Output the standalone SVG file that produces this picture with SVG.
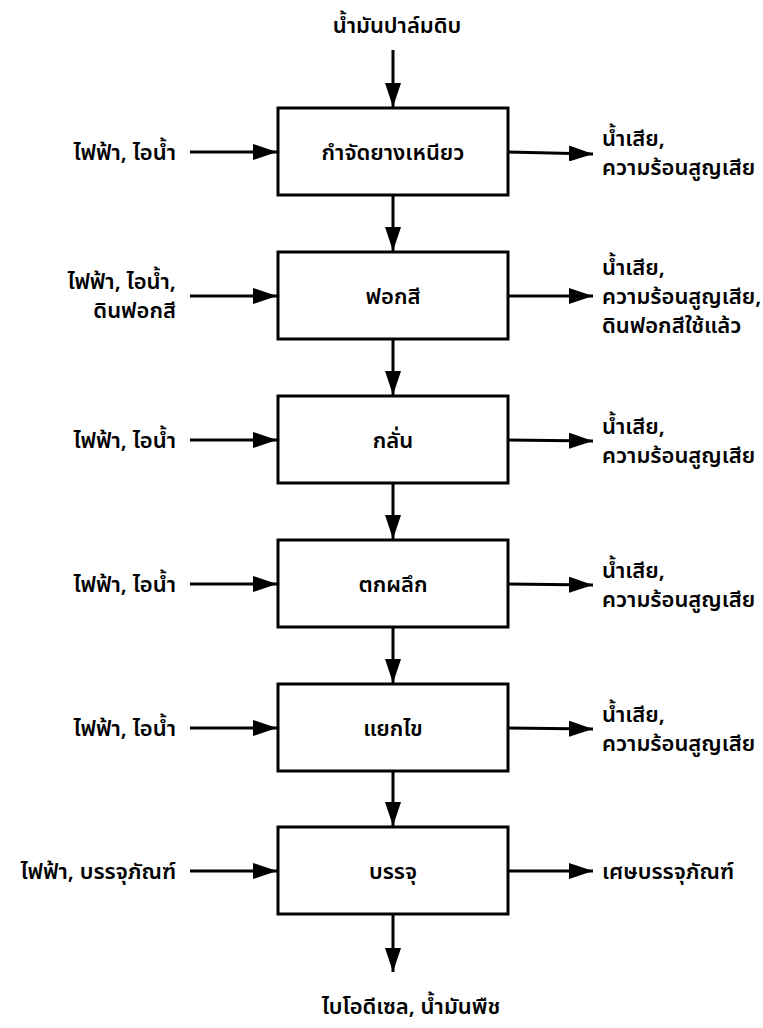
<svg xmlns="http://www.w3.org/2000/svg" width="763" height="1028" viewBox="0 0 763 1028">
  <style>
    .box { fill: #ffffff; stroke: #000000; stroke-width: 3; }
    .lbl { font-family: "Noto Sans Thai", "Loma", "Garuda", "Noto Sans", "DejaVu Sans", sans-serif; font-size: 22px; font-weight: 600; fill: #000000; }
    .mid { text-anchor: middle; }
    .end { text-anchor: end; }
    .flow { stroke: #000000; stroke-width: 3; fill: none; marker-end: url(#head); }
  </style>
  <defs>
    <marker id="head" viewBox="0 0 24 16" refX="24" refY="8" markerWidth="24" markerHeight="16" markerUnits="userSpaceOnUse" orient="auto">
      <path d="M0,0 L24,8 L0,16 Z" fill="#000000"/>
    </marker>
  </defs>

  <!-- process steps -->
  <g id="step-degum">
    <rect class="box" x="278" y="108" width="230" height="87"/>
    <text class="lbl mid" x="393" y="160">กำจัดยางเหนียว</text>
  </g>
  <g id="step-bleach">
    <rect class="box" x="278" y="252" width="230" height="87"/>
    <text class="lbl mid" x="393" y="304">ฟอกสี</text>
  </g>
  <g id="step-distil">
    <rect class="box" x="278" y="396" width="230" height="87"/>
    <text class="lbl mid" x="393" y="448">กลั่น</text>
  </g>
  <g id="step-crystal">
    <rect class="box" x="278" y="540" width="230" height="87"/>
    <text class="lbl mid" x="393" y="592">ตกผลึก</text>
  </g>
  <g id="step-fraction">
    <rect class="box" x="278" y="684" width="230" height="87"/>
    <text class="lbl mid" x="393" y="736">แยกไข</text>
  </g>
  <g id="step-pack">
    <rect class="box" x="278" y="827" width="230" height="87"/>
    <text class="lbl mid" x="393" y="879">บรรจุ</text>
  </g>

  <!-- inputs (left) -->
  <g id="in-degum">
    <text class="lbl end" x="176" y="160">ไฟฟ้า, ไอน้ำ</text>
  </g>
  <g id="in-bleach">
    <text class="lbl end" x="176" y="289">ไฟฟ้า, ไอน้ำ,</text>
    <text class="lbl end" x="176" y="318">ดินฟอกสี</text>
  </g>
  <g id="in-distil">
    <text class="lbl end" x="176" y="448">ไฟฟ้า, ไอน้ำ</text>
  </g>
  <g id="in-crystal">
    <text class="lbl end" x="176" y="592">ไฟฟ้า, ไอน้ำ</text>
  </g>
  <g id="in-fraction">
    <text class="lbl end" x="176" y="736">ไฟฟ้า, ไอน้ำ</text>
  </g>
  <g id="in-pack">
    <text class="lbl end" x="176" y="879">ไฟฟ้า, บรรจุภัณฑ์</text>
  </g>

  <!-- outputs (right) -->
  <g id="out-degum">
    <text class="lbl" x="602" y="146">น้ำเสีย,</text>
    <text class="lbl" x="602" y="175">ความร้อนสูญเสีย</text>
  </g>
  <g id="out-bleach">
    <text class="lbl" x="602" y="275">น้ำเสีย,</text>
    <text class="lbl" x="602" y="304">ความร้อนสูญเสีย,</text>
    <text class="lbl" x="602" y="333">ดินฟอกสีใช้แล้ว</text>
  </g>
  <g id="out-distil">
    <text class="lbl" x="602" y="434">น้ำเสีย,</text>
    <text class="lbl" x="602" y="463">ความร้อนสูญเสีย</text>
  </g>
  <g id="out-crystal">
    <text class="lbl" x="602" y="578">น้ำเสีย,</text>
    <text class="lbl" x="602" y="607">ความร้อนสูญเสีย</text>
  </g>
  <g id="out-fraction">
    <text class="lbl" x="602" y="722">น้ำเสีย,</text>
    <text class="lbl" x="602" y="751">ความร้อนสูญเสีย</text>
  </g>
  <g id="out-pack">
    <text class="lbl" x="602" y="879">เศษบรรจุภัณฑ์</text>
  </g>

  <!-- feed and product -->
  <g id="feed">
    <text class="lbl mid" x="397" y="33">น้ำมันปาล์มดิบ</text>
  </g>
  <g id="product">
    <text class="lbl mid" x="411" y="1014">ไบโอดีเซล, น้ำมันพืช</text>
  </g>

  <!-- connectors -->
  <g id="connectors">
    <!-- main line -->
    <line class="flow" x1="393" y1="50" x2="393" y2="107"/>
    <line class="flow" x1="393" y1="195" x2="393" y2="251"/>
    <line class="flow" x1="393" y1="339" x2="393" y2="395"/>
    <line class="flow" x1="393" y1="483" x2="393" y2="539"/>
    <line class="flow" x1="393" y1="627" x2="393" y2="683"/>
    <line class="flow" x1="393" y1="771" x2="393" y2="826"/>
    <line class="flow" x1="393" y1="914" x2="393" y2="972"/>
    <!-- inputs -->
    <line class="flow" x1="190" y1="152" x2="277" y2="152"/>
    <line class="flow" x1="190" y1="296" x2="277" y2="296"/>
    <line class="flow" x1="190" y1="440" x2="277" y2="440"/>
    <line class="flow" x1="190" y1="584" x2="277" y2="584"/>
    <line class="flow" x1="190" y1="728" x2="277" y2="728"/>
    <line class="flow" x1="190" y1="871" x2="277" y2="871"/>
    <!-- outputs -->
    <line class="flow" x1="508" y1="152" x2="593" y2="154"/>
    <line class="flow" x1="508" y1="296" x2="593" y2="296"/>
    <line class="flow" x1="508" y1="440" x2="593" y2="441"/>
    <line class="flow" x1="508" y1="584" x2="593" y2="585"/>
    <line class="flow" x1="508" y1="728" x2="593" y2="729"/>
    <line class="flow" x1="508" y1="871" x2="593" y2="871"/>
  </g>
</svg>
